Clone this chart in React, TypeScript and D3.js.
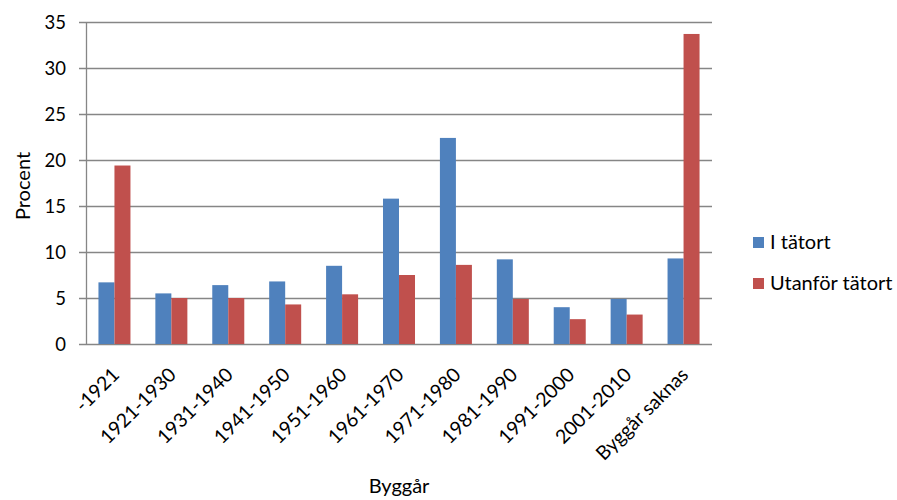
import React, { useRef, useEffect } from 'react';
import * as d3 from 'd3';

const categories = ['-1921', '1921-1930', '1931-1940', '1941-1950', '1951-1960', '1961-1970', '1971-1980', '1981-1990', '1991-2000', '2001-2010', 'Byggår saknas'];
const seriesNames = ['I tätort', 'Utanför tätort'];
const iTatort = [6.7, 5.5, 6.4, 6.8, 8.5, 15.8, 22.4, 9.2, 4.0, 4.9, 9.3];
const utanforTatort = [19.4, 5.0, 5.0, 4.3, 5.4, 7.5, 8.6, 4.9, 2.7, 3.2, 33.7];
const yTicks = [0, 5, 10, 15, 20, 25, 30, 35];
const colors = ['#4F81BD', '#C0504D'];

const WIDTH = 897;
const HEIGHT = 500;
const FONT = 'Lato, "Open Sans", sans-serif';

const App: React.FC = () => {
  const svgRef = useRef<SVGSVGElement>(null);

  useEffect(() => {
    if (!svgRef.current) return;
    const svg = d3.select(svgRef.current);
    svg.selectAll('*').remove();

    const left = 86, right = 712, top = 22, bottom = 344;
    const gridColor = '#868686';

    const y = d3.scaleLinear().domain([0, 35]).range([bottom, top]);
    const x0 = d3.scaleBand<string>()
      .domain(categories)
      .range([left, right])
      .paddingInner(0.4376)
      .paddingOuter(0.2188);
    const x1 = d3.scaleBand<string>()
      .domain(seriesNames)
      .range([0, x0.bandwidth()]);

    // gridlines (and the 0 baseline)
    svg.append('g')
      .selectAll('line')
      .data(yTicks)
      .enter().append('line')
      .attr('x1', left - 7)
      .attr('x2', right)
      .attr('y1', d => Math.round(y(d)) + 0.5)
      .attr('y2', d => Math.round(y(d)) + 0.5)
      .attr('stroke', gridColor)
      .attr('stroke-width', 1.3);

    // y tick labels
    svg.append('g')
      .selectAll('text')
      .data(yTicks)
      .enter().append('text')
      .attr('x', 66)
      .attr('y', d => y(d) + 1)
      .attr('dy', '0.35em')
      .attr('text-anchor', 'end')
      .style('font-family', FONT)
      .style('font-size', '18.5px')
      .style('fill', '#000')
      .text(d => d);

    // bars
    const rows = categories.map((c, i) => ({ cat: c, values: [iTatort[i], utanforTatort[i]] }));
    const groups = svg.append('g')
      .selectAll('g')
      .data(rows)
      .enter().append('g')
      .attr('transform', d => `translate(${x0(d.cat)},0)`);

    groups.selectAll('rect')
      .data(d => d.values.map((v, j) => ({ key: seriesNames[j], v, j })))
      .enter().append('rect')
      .attr('x', d => x1(d.key) || 0)
      .attr('y', d => y(d.v))
      .attr('width', x1.bandwidth())
      .attr('height', d => y(0) - y(d.v))
      .attr('fill', d => colors[d.j]);

    // y axis line
    svg.append('line')
      .attr('x1', left + 0.5)
      .attr('x2', left + 0.5)
      .attr('y1', top)
      .attr('y2', bottom + 1)
      .attr('stroke', gridColor)
      .attr('stroke-width', 1.3);

    // x tick labels
    svg.append('g')
      .selectAll('text')
      .data(categories)
      .enter().append('text')
      .attr('transform', d => `translate(${(x0(d) || 0) + x0.bandwidth() / 2 + 6},376) rotate(-45)`)
      .attr('text-anchor', 'end')
      .style('font-family', FONT)
      .style('font-size', '19.5px')
      .style('fill', '#000')
      .text(d => d);

    // axis titles
    svg.append('text')
      .attr('transform', 'translate(30,186) rotate(-90)')
      .attr('text-anchor', 'middle')
      .style('font-family', FONT)
      .style('font-size', '20px')
      .text('Procent');

    svg.append('text')
      .attr('x', 399)
      .attr('y', 493)
      .attr('text-anchor', 'middle')
      .style('font-family', FONT)
      .style('font-size', '20px')
      .text('Byggår');

    // legend
    const legend = svg.append('g')
      .selectAll('g')
      .data(seriesNames)
      .enter().append('g')
      .attr('transform', (d, i) => `translate(753,${237 + i * 41})`);
    legend.append('rect')
      .attr('width', 11)
      .attr('height', 11)
      .attr('fill', (d, i) => colors[i]);
    legend.append('text')
      .attr('x', 17)
      .attr('y', 12)
      .style('font-family', FONT)
      .style('font-size', '20px')
      .text(d => d);
  }, []);

  return (
    <svg
      ref={svgRef}
      width={WIDTH}
      height={HEIGHT}
      style={{ position: 'absolute', left: 0, top: 0, background: '#fff' }}
    ></svg>
  );
};

export default App;
